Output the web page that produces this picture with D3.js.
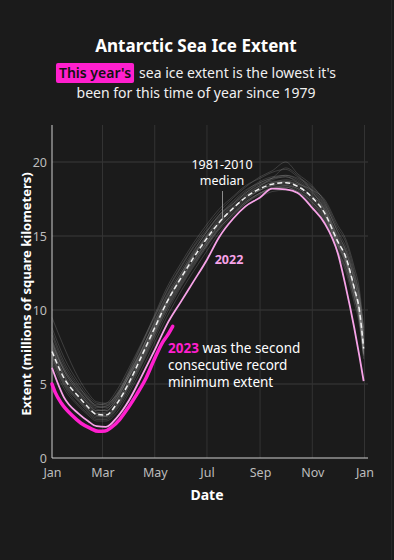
<!doctype html>
<html>
<head>
    <style>
        body { margin: 0; background: #1b1b1b; }
        svg { display: block; font-family: 'Noto Sans', sans-serif; }
        .tick text { fill: #bdbdbd; font-size: 12.5px; }
    </style>
    <script src="https://d3js.org/d3.v7.min.js"></script>
</head>
<body>
    <div id="chart"></div>
    <script>
        // sample dates (month-day) shared by the median, 2022 and past-year lines
        var dates = ["01-01","01-15","02-01","02-12","02-22","03-05","03-18","04-01","04-15","05-01",
            "05-15","06-01","06-15","07-01","07-15","08-01","08-15","09-01","09-15","10-01",
            "10-15","11-01","11-15","12-01","12-10","12-20","12-26","12-31"];

        var median = [7.2,5.4,4.15,3.45,2.95,2.9,3.7,5.1,6.8,8.8,10.5,12.2,13.5,14.85,15.9,16.9,17.6,18.2,18.5,18.6,18.35,17.6,16.6,14.6,13.6,11.5,10.0,7.4];
        var year2022 = [6.1,4.1,3.0,2.5,2.15,2.1,2.75,3.9,5.45,7.3,9.0,10.6,11.9,13.4,14.9,16.2,17.0,17.6,18.2,18.15,17.9,16.9,15.9,13.8,11.6,8.8,6.9,5.2];

        // 2023 only runs to late May
        var dates2023 = ["01-01","01-05","01-12","01-24","02-04","02-15","02-24","03-04","03-11","03-21",
            "03-31","04-10","04-20","04-30","05-10","05-16","05-22"];
        var year2023 = [5.0,4.4,3.7,2.9,2.35,2.0,1.8,1.82,2.05,2.6,3.4,4.3,5.3,6.6,7.8,8.3,8.9];

        // earlier years (thin grey lines)
        var pastYears = [
            [7.8,6.0,4.7,4.0,3.6,3.7,4.6,6.1,7.7,9.6,11.3,13.0,14.3,15.6,16.6,17.6,18.3,19.0,19.4,20.0,19.2,18.4,17.3,15.2,14.0,12.0,10.4,7.9],
            [7.0,5.2,3.9,3.2,2.8,2.9,3.6,5.0,6.6,8.6,10.3,12.0,13.3,14.6,15.7,16.7,17.4,18.1,18.4,18.5,18.2,17.5,16.5,14.4,13.2,11.2,9.6,7.1],
            [8.3,6.3,4.8,4.1,3.5,3.4,4.1,5.6,7.2,9.2,10.9,12.5,13.8,15.1,16.2,17.2,17.9,18.6,18.9,19.1,18.8,18.1,17.1,15.0,14.1,12.2,10.7,8.2],
            [6.6,4.9,3.6,3.0,2.6,2.6,3.3,4.6,6.2,8.1,9.8,11.6,12.9,14.3,15.4,16.4,17.2,17.8,18.2,18.3,18.0,17.2,16.1,13.9,12.8,10.8,9.3,6.9],
            [9.5,7.5,5.4,4.4,3.8,3.7,4.3,5.7,7.3,9.1,10.6,12.3,13.6,14.9,15.9,16.9,17.6,18.3,18.6,18.8,18.6,17.9,16.9,14.8,13.7,11.6,10.1,7.6],
            [7.5,5.6,4.3,3.6,3.1,3.0,3.8,5.3,6.9,8.9,10.6,12.3,13.7,15.0,16.1,17.1,17.8,18.4,18.7,18.7,18.4,17.7,16.8,14.7,13.6,11.5,9.9,7.5],
            [7.1,5.3,4.0,3.3,2.9,2.8,3.5,4.9,6.5,8.5,10.2,11.9,13.2,14.5,15.6,16.6,17.3,17.9,18.3,18.4,18.2,17.4,16.4,14.3,13.3,11.3,9.7,7.2],
            [8.0,6.1,4.6,3.8,3.3,3.2,4.0,5.5,7.1,9.0,10.8,12.5,13.9,15.3,16.3,17.3,18.0,18.7,19.0,19.1,18.9,18.2,17.2,15.3,14.3,12.4,10.9,8.4],
            [6.8,5.0,3.8,3.1,2.7,2.7,3.4,4.8,6.3,8.3,10.0,11.7,13.0,14.4,15.5,16.5,17.2,17.9,18.2,18.3,18.0,17.3,16.3,14.2,13.1,11.0,9.4,7.0],
            [7.6,5.7,4.4,3.7,3.2,3.3,4.2,5.8,7.5,9.5,11.2,12.9,14.2,15.4,16.4,17.4,18.1,18.6,18.9,19.0,18.6,17.8,16.7,14.6,13.5,11.4,9.8,7.4],
            [6.4,4.7,3.5,2.9,2.5,2.5,3.1,4.4,5.9,7.8,9.5,11.3,12.6,14.0,15.2,16.2,17.0,17.6,18.0,18.1,17.9,17.1,16.0,13.8,12.6,10.5,9.0,6.7],
            [8.8,6.8,5.1,4.2,3.7,3.6,4.4,5.9,7.6,9.7,11.5,13.2,14.5,15.8,16.8,17.7,18.4,18.9,19.3,19.5,19.0,18.3,17.4,15.5,14.6,12.6,11.0,8.6],
            [7.3,5.5,4.1,3.4,3.0,3.1,3.9,5.2,6.7,8.6,10.4,12.1,13.4,14.7,15.8,16.8,17.5,18.1,18.5,18.7,18.5,17.6,16.6,14.5,13.4,11.4,9.9,7.6],
            [6.9,5.1,3.9,3.3,2.9,2.8,3.6,5.0,6.4,8.4,10.1,11.8,13.1,14.4,15.5,16.5,17.3,17.9,18.2,18.4,18.1,17.3,16.2,14.0,12.9,10.9,9.4,7.0],
            [7.9,5.9,4.5,3.9,3.4,3.5,4.3,5.7,7.2,9.3,11.0,12.7,14.0,15.3,16.4,17.2,17.9,18.5,18.8,19.0,18.7,18.0,17.0,14.9,13.9,12.0,10.4,8.0],
            [7.4,5.5,4.2,3.5,3.0,2.9,3.7,5.1,6.8,8.7,10.5,12.2,13.6,14.9,15.9,16.9,17.7,18.2,18.6,18.6,18.3,17.6,16.5,14.4,13.4,11.3,9.8,7.3],
            [7.7,5.9,4.5,3.7,3.2,3.2,4.0,5.5,7.0,8.9,10.5,12.1,13.3,14.6,15.8,16.9,17.7,18.4,18.9,19.6,19.1,18.0,16.8,14.6,13.6,11.6,10.1,7.8],
            [8.5,6.5,4.9,4.0,3.5,3.5,4.2,5.5,6.9,8.8,10.6,12.4,13.7,15.0,16.0,17.0,17.6,18.1,18.4,18.6,18.5,18.1,17.5,15.7,14.8,12.9,11.4,8.8]
        ];

        var yTicks = [0, 5, 10, 15, 20];

        var W = 394, H = 560;
        var pink = "#ff1fce", lightPink = "#f7a3e8";
        var parse = d3.timeParse("%Y-%m-%d");
        var toDate = function(md) { return parse("2023-" + md); };

        var svg = d3.select("#chart").append("svg").attr("width", W).attr("height", H);
        svg.append("rect").attr("width", W).attr("height", H).attr("fill", "#1b1b1b");
        svg.append("line").attr("x1", W - 2.5).attr("x2", W - 2.5).attr("y1", 0).attr("y2", H)
            .attr("stroke", "#262626");

        var x = d3.scaleTime().domain([parse("2023-01-01"), parse("2024-01-01")]).range([52, 364.5]);
        var y = d3.scaleLinear().domain([0, 22.5]).range([458, 125]);
        var monthTicks = x.ticks(d3.timeMonth.every(2));

        // grid
        svg.append("g").selectAll("line").data(yTicks.slice(1)).enter().append("line")
            .attr("x1", 52).attr("x2", 368)
            .attr("y1", function(d) { return y(d); }).attr("y2", function(d) { return y(d); })
            .attr("stroke", "#3a3a3a");
        svg.append("g").selectAll("line").data(monthTicks.slice(1)).enter().append("line")
            .attr("x1", function(d) { return x(d); }).attr("x2", function(d) { return x(d); })
            .attr("y1", y(22.5)).attr("y2", y(0))
            .attr("stroke", "#333");

        // axes (labels only, the lines are drawn by hand)
        var xAxis = svg.append("g").attr("transform", "translate(0," + y(0) + ")")
            .call(d3.axisBottom(x).tickValues(monthTicks).tickFormat(d3.timeFormat("%b")).tickSize(0).tickPadding(10));
        var yAxis = svg.append("g").attr("transform", "translate(52,0)")
            .call(d3.axisLeft(y).tickValues(yTicks).tickSize(0).tickPadding(5));
        xAxis.select(".domain").remove();
        yAxis.select(".domain").remove();
        svg.selectAll(".tick text").attr("font-family", "'Noto Sans', sans-serif");

        svg.append("line").attr("x1", 52).attr("x2", 52).attr("y1", y(22.5)).attr("y2", y(0))
            .attr("stroke", "#d0d0d0");
        svg.append("line").attr("x1", 52).attr("x2", 368).attr("y1", y(0)).attr("y2", y(0))
            .attr("stroke", "#d0d0d0");

        var line = function(ds) {
            return d3.line()
                .x(function(d, i) { return x(toDate(ds[i])); })
                .y(function(d) { return y(d); })
                .curve(d3.curveMonotoneX);
        };

        svg.append("g").selectAll("path").data(pastYears).enter().append("path")
            .attr("d", line(dates))
            .attr("fill", "none").attr("stroke", "#a0a0a0")
            .attr("stroke-opacity", 0.3).attr("stroke-width", 0.9);

        svg.append("path").datum(median).attr("d", line(dates))
            .attr("fill", "none").attr("stroke", "#f2f2f2")
            .attr("stroke-width", 1.5).attr("stroke-dasharray", "5,3");

        svg.append("path").datum(year2022).attr("d", line(dates))
            .attr("fill", "none").attr("stroke", lightPink).attr("stroke-width", 1.8);

        svg.append("path").datum(year2023).attr("d", line(dates2023))
            .attr("fill", "none").attr("stroke", pink)
            .attr("stroke-width", 3.5).attr("stroke-linecap", "round");

        // annotations
        svg.append("text").attr("x", 222).attr("y", 168.5).attr("text-anchor", "middle")
            .attr("fill", "#fff").attr("font-size", "12.5px").text("1981-2010");
        svg.append("text").attr("x", 222).attr("y", 185).attr("text-anchor", "middle")
            .attr("fill", "#fff").attr("font-size", "12.5px").text("median");
        svg.append("line").attr("x1", 222.5).attr("x2", 222.5).attr("y1", 191).attr("y2", 219)
            .attr("stroke", "#aaa").attr("stroke-width", 0.8);

        svg.append("text").attr("x", 229).attr("y", 264).attr("text-anchor", "middle")
            .attr("fill", lightPink).attr("font-size", "12.5px").attr("font-weight", "bold").text("2022");

        var note = svg.append("text").attr("x", 168).attr("y", 353).attr("fill", "#fff").attr("font-size", "13.5px");
        note.append("tspan").attr("fill", pink).attr("font-weight", "bold").text("2023");
        note.append("tspan").text(" was the second");
        svg.append("text").attr("x", 168).attr("y", 370).attr("fill", "#fff").attr("font-size", "13.5px")
            .text("consecutive record");
        svg.append("text").attr("x", 168).attr("y", 387).attr("fill", "#fff").attr("font-size", "13.5px")
            .text("minimum extent");

        // axis titles
        svg.append("text").attr("transform", "translate(31,294) rotate(-90)").attr("text-anchor", "middle")
            .attr("fill", "#fff").attr("font-size", "13px").attr("font-weight", "bold")
            .text("Extent (millions of square kilometers)");
        svg.append("text").attr("x", 207).attr("y", 500).attr("text-anchor", "middle")
            .attr("fill", "#fff").attr("font-size", "14px").attr("font-weight", "bold").text("Date");

        // title + subtitle
        svg.append("text").attr("x", 196).attr("y", 52).attr("text-anchor", "middle")
            .attr("fill", "#fff").attr("font-size", "17px").attr("font-weight", "bold")
            .text("Antarctic Sea Ice Extent");

        var box = svg.append("rect").attr("y", 63).attr("height", 20).attr("rx", 2).attr("fill", pink);
        var hl = svg.append("text").attr("y", 78).attr("font-size", "14px").attr("font-weight", 600)
            .attr("fill", "#111").text("This year's");
        var rest = svg.append("text").attr("y", 78).attr("font-size", "14px").attr("fill", "#f0f0f0")
            .text("sea ice extent is the lowest it's");
        var pad = 3, gap = 5;
        var w1 = hl.node().getComputedTextLength(), w2 = rest.node().getComputedTextLength();
        var x0 = 196 - (w1 + 2 * pad + gap + w2) / 2;
        box.attr("x", x0).attr("width", w1 + 2 * pad);
        hl.attr("x", x0 + pad);
        rest.attr("x", x0 + 2 * pad + w1 + gap);
        svg.append("text").attr("x", 196).attr("y", 98).attr("text-anchor", "middle")
            .attr("font-size", "14px").attr("fill", "#f0f0f0")
            .text("been for this time of year since 1979");
    </script>
</body>
</html>
